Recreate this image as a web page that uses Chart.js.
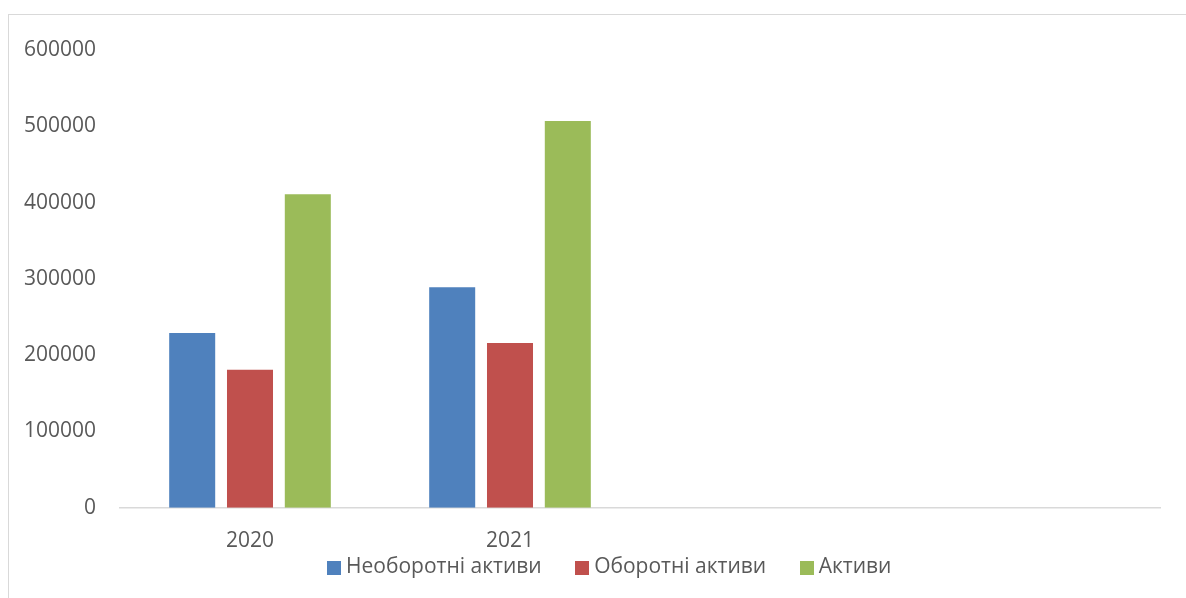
<!DOCTYPE html>
<html lang="uk">
<head>
<meta charset="utf-8">
<title>Активи 2020-2021</title>
<script src="https://cdn.jsdelivr.net/npm/chart.js@4/dist/chart.umd.min.js"></script>
<style>
    html, body { margin: 0; padding: 0; background: #ffffff; overflow: hidden; }
    .frame {
        position: absolute; left: 8px; top: 14px;
        width: 1400px; height: 800px;
        border: 1px solid #d9d9d9;
    }
    .chart-box {
        position: absolute; left: 0; top: 0;
        width: 1186px; height: 645px;
    }
</style>
</head>
<body>
<div class="frame"></div>
<div class="chart-box"><canvas id="assetsChart"></canvas></div>
<script>
// Chart data
const years = ['2020', '2021', '', ''];
const nonCurrentAssets = [229000, 289000, null, null];
const currentAssets = [181000, 216000, null, null];
const totalAssets = [411000, 507000, null, null];
const seriesNames = ['Необоротні активи', 'Оборотні активи', 'Активи'];
const seriesColors = ['#4f81bd', '#c0504d', '#9bbb59'];
const yTicks = [0, 100000, 200000, 300000, 400000, 500000, 600000];

const textColor = '#595959';
const axisFont = { family: '"Open Sans", sans-serif', size: 21 };

document.addEventListener('DOMContentLoaded', function() {
    drawAssetsChart();
});

// small square swatches for the legend (Excel puts them close to the text)
function makeSwatch(color) {
    const c = document.createElement('canvas');
    c.width = 14;
    c.height = 14;
    const g = c.getContext('2d');
    g.fillStyle = color;
    g.fillRect(0, 0, 14, 14);
    return c;
}

// move the legend box to where the reference has it
const legendNudge = {
    id: 'legendNudge',
    afterLayout(chart) {
        const lg = chart.legend;
        lg.top -= 57; lg.bottom -= 57;
        lg.left += 32; lg.right += 32;
    }
};

function drawAssetsChart() {
    const swatches = seriesColors.map(makeSwatch);
    const ctx = document.getElementById('assetsChart').getContext('2d');
    new Chart(ctx, {
        type: 'bar',
        data: {
            labels: years,
            datasets: [
                { label: seriesNames[0], data: nonCurrentAssets, backgroundColor: seriesColors[0] },
                { label: seriesNames[1], data: currentAssets, backgroundColor: seriesColors[1] },
                { label: seriesNames[2], data: totalAssets, backgroundColor: seriesColors[2] }
            ]
        },
        plugins: [legendNudge],
        options: {
            responsive: true,
            maintainAspectRatio: false,
            animation: false,
            categoryPercentage: 0.667,
            barPercentage: 0.796,
            borderWidth: 0,
            layout: {
                padding: { top: 50, right: 26, bottom: 0, left: 0 }
            },
            scales: {
                x: {
                    grid: { display: false, drawTicks: false },
                    border: { display: true, color: '#d9d9d9', width: 1.5 },
                    ticks: { color: textColor, font: axisFont, padding: 21 }
                },
                y: {
                    min: 0,
                    max: yTicks[yTicks.length - 1],
                    afterBuildTicks: function(axis) {
                        axis.ticks = yTicks.map(v => ({ value: v }));
                    },
                    grid: { display: false, drawTicks: false },
                    border: { display: false },
                    ticks: {
                        color: textColor,
                        font: axisFont,
                        padding: 24,
                        callback: v => String(v)
                    },
                    afterFit: function(axis) { axis.width = 120; }
                }
            },
            plugins: {
                legend: {
                    position: 'bottom',
                    labels: {
                        color: textColor,
                        font: axisFont,
                        usePointStyle: true,
                        pointStyleWidth: 3,
                        padding: 39,
                        generateLabels: function(chart) {
                            const items = Chart.defaults.plugins.legend.labels.generateLabels(chart);
                            items.forEach((item, i) => { item.pointStyle = swatches[i]; });
                            return items;
                        }
                    }
                },
                tooltip: { enabled: false }
            }
        }
    });
}
</script>
</body>
</html>
